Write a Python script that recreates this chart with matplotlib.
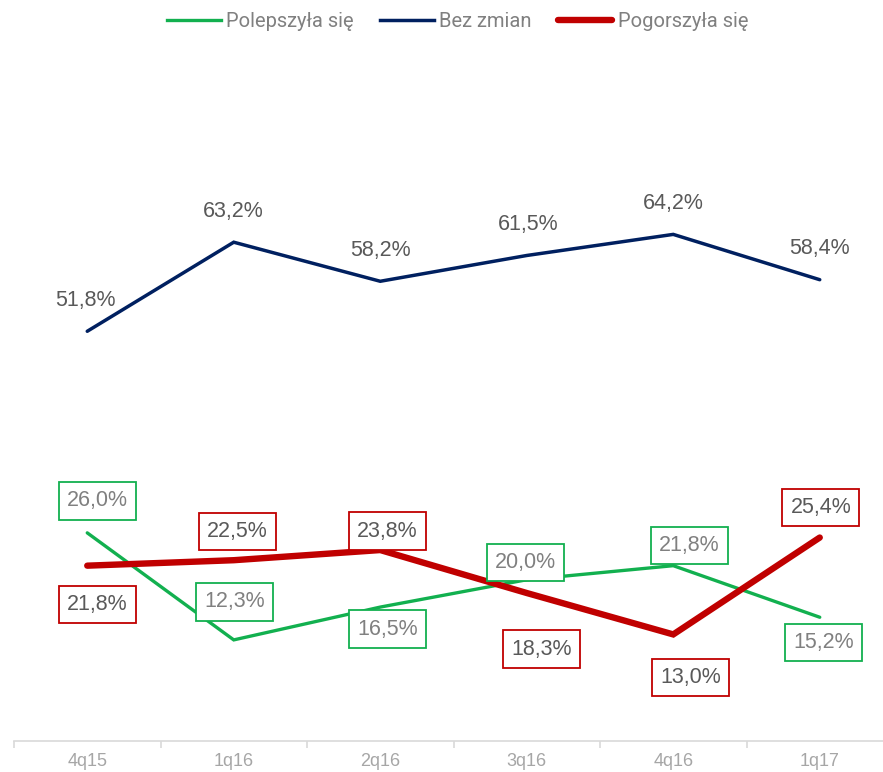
import matplotlib
matplotlib.use("Agg")
import matplotlib.pyplot as plt
from matplotlib.lines import Line2D

categories = ["4q15", "1q16", "2q16", "3q16", "4q16", "1q17"]
polepszyla = [26.0, 12.3, 16.5, 20.0, 21.8, 15.2]
bez_zmian = [51.8, 63.2, 58.2, 61.5, 64.2, 58.4]
pogorszyla = [21.8, 22.5, 23.8, 18.3, 13.0, 25.4]
series_names = ["Polepszyła się", "Bez zmian", "Pogorszyła się"]

GREEN = "#12B04F"
BLUE = "#002060"
RED = "#C00000"
LBL_FONT = ["Liberation Sans", "DejaVu Sans"]

fig = plt.figure(figsize=(8.83, 7.72), dpi=100)
ax = fig.add_axes([14 / 883, (772 - 741) / 772, 879 / 883, (741 - 50) / 772])
ax.set_xlim(-0.5, 5.5)
ax.set_ylim(-0.64, 87.8)

x = list(range(len(categories)))
ax.plot(x, polepszyla, color=GREEN, lw=2.4, solid_capstyle="round", solid_joinstyle="miter", zorder=3)
ax.plot(x, bez_zmian, color=BLUE, lw=2.5, solid_capstyle="round", solid_joinstyle="miter", zorder=3)
ax.plot(x, pogorszyla, color=RED, lw=4.6, solid_capstyle="round", solid_joinstyle="miter", zorder=4)

px2pt = 0.72
# label offsets in pixels (dx, dy with dy positive = down)
g_off = [(10, 32), (1, 38), (7, -22), (-1, 17), (16, 20), (4, -25)]
r_off = [(10, -39), (4, 29), (7, 19), (15, -56), (17, -43), (1, 30)]
b_off = [(-2, 31), (0, 31), (0, 31), (1, 31), (0, 31), (0, 31)]

def fmt(v):
    return f"{v:.1f}".replace(".", ",") + "%"

box_kw = dict(boxstyle="square,pad=0.38", fc="white", lw=1.3)
for i in x:
    dx, dy = g_off[i]
    ax.annotate(fmt(polepszyla[i]), (i, polepszyla[i]), xytext=(dx * px2pt, dy * px2pt),
                textcoords="offset points", ha="center", va="center", fontsize=15.5,
                family=LBL_FONT, color="#808080", zorder=6,
                bbox=dict(ec=GREEN, **box_kw))
    dx, dy = r_off[i]
    ax.annotate(fmt(pogorszyla[i]), (i, pogorszyla[i]), xytext=(dx * px2pt, dy * px2pt),
                textcoords="offset points", ha="center", va="center", fontsize=15.5,
                family=LBL_FONT, color="#595959", zorder=6,
                bbox=dict(ec=RED, **box_kw))
    dx, dy = b_off[i]
    ax.annotate(fmt(bez_zmian[i]), (i, bez_zmian[i]), xytext=(dx * px2pt, dy * px2pt),
                textcoords="offset points", ha="center", va="center", fontsize=15.5,
                family=LBL_FONT, color="#595959", zorder=6)

for s in ["top", "right", "left"]:
    ax.spines[s].set_visible(False)
ax.spines["bottom"].set_color("#D9D9D9")
ax.spines["bottom"].set_linewidth(1.2)
ax.set_yticks([])
ax.set_xticks(x)
ax.set_xticklabels(categories, fontsize=13, color="#A6A6A6",
                   family=["Liberation Sans", "DejaVu Sans"])
ax.tick_params(axis="x", which="major", length=0, pad=9)
ax.set_xticks([i - 0.5 for i in range(len(categories) + 1)], minor=True)
ax.tick_params(axis="x", which="minor", length=5, color="#D9D9D9", width=1.2)

handles = [Line2D([], [], color=GREEN, lw=2.4),
           Line2D([], [], color=BLUE, lw=2.5),
           Line2D([], [], color=RED, lw=4.6, solid_capstyle="round")]
leg = fig.legend(handles, series_names, loc="upper center", bbox_to_anchor=(0.518, 1.008),
                 ncol=3, frameon=False, handlelength=2.7, handletextpad=0.25, columnspacing=1.3,
                 prop={"family": ["Roboto", "DejaVu Sans"], "size": 14.5})
for t in leg.get_texts():
    t.set_color("#808080")

fig.savefig("out.png", dpi=100)
